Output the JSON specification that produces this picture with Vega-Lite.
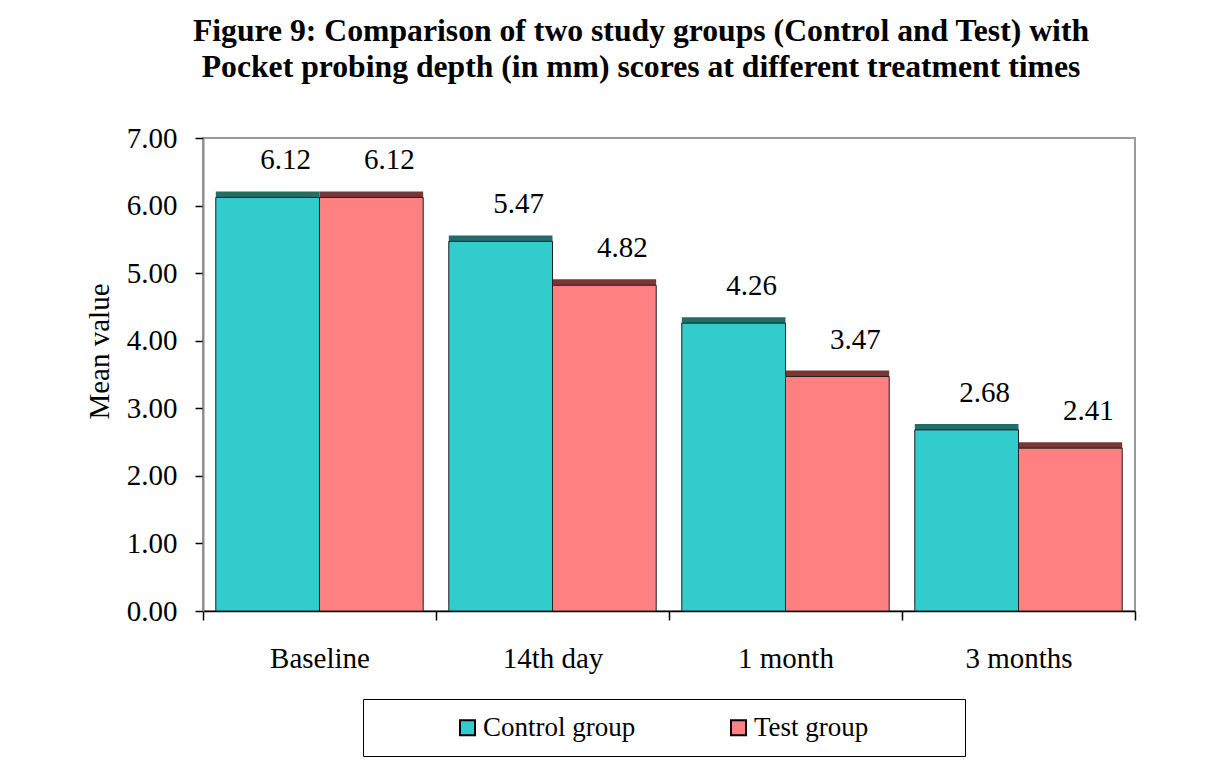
{
  "$schema": "https://vega.github.io/schema/vega-lite/v6.json",
  "width": 932,
  "height": 473,
  "autosize": {"type": "none"},
  "padding": {"left": 203, "top": 138, "right": 73, "bottom": 160},
  "background": "white",
  "config": {
    "font": "Liberation Serif",
    "view": {"stroke": "#9a9a9a", "strokeWidth": 2}
  },
  "title": {
    "text": [
      "Figure 9: Comparison of two study groups (Control and Test) with",
      "Pocket probing depth (in mm) scores at different treatment times"
    ],
    "font": "Liberation Serif",
    "fontSize": 31.7,
    "fontWeight": "bold",
    "color": "black",
    "anchor": "middle",
    "frame": "group",
    "dx": -28,
    "lineHeight": 36,
    "offset": 40
  },
  "data": {
    "values": [
      {"time": "Baseline", "group": "Control group", "value": 6.12},
      {"time": "Baseline", "group": "Test group", "value": 6.12},
      {"time": "14th day", "group": "Control group", "value": 5.47},
      {"time": "14th day", "group": "Test group", "value": 4.82},
      {"time": "1 month", "group": "Control group", "value": 4.26},
      {"time": "1 month", "group": "Test group", "value": 3.47},
      {"time": "3 months", "group": "Control group", "value": 2.68},
      {"time": "3 months", "group": "Test group", "value": 2.41}
    ]
  },
  "encoding": {
    "x": {
      "field": "time",
      "type": "nominal",
      "sort": ["Baseline", "14th day", "1 month", "3 months"],
      "scale": {"paddingInner": 0, "paddingOuter": 0},
      "axis": {
        "title": null,
        "labelAngle": 0,
        "labelFont": "Liberation Serif",
        "labelFontSize": 29,
        "labelColor": "black",
        "labelPadding": 24,
        "tickBand": "extent",
        "tickColor": "black",
        "tickSize": 9,
        "tickWidth": 1.5,
        "domainColor": "black",
        "domainWidth": 1.5
      }
    },
    "xOffset": {
      "field": "group",
      "type": "nominal",
      "sort": ["Control group", "Test group"],
      "scale": {"paddingInner": 0, "paddingOuter": 0.1235}
    },
    "y": {
      "field": "value",
      "type": "quantitative",
      "scale": {"domain": [0, 7], "nice": false},
      "axis": {
        "title": "Mean value",
        "titleFont": "Liberation Serif",
        "titleFontSize": 29,
        "titleFontWeight": "normal",
        "titleColor": "black",
        "titlePadding": 12,
        "titleY": 213,
        "values": [0, 1, 2, 3, 4, 5, 6, 7],
        "format": ".2f",
        "grid": false,
        "labelFont": "Liberation Serif",
        "labelFontSize": 29,
        "labelColor": "black",
        "labelPadding": 18,
        "tickColor": "black",
        "tickSize": 8,
        "tickWidth": 1.5,
        "domainColor": "#8c8c8c",
        "domainWidth": 2
      }
    }
  },
  "layer": [
    {
      "mark": {"type": "bar", "xOffset": 5, "yOffset": -6},
      "encoding": {
        "color": {
          "field": "group",
          "type": "nominal",
          "sort": ["Control group", "Test group"],
          "scale": {"range": ["#246b6b", "#7a3535"]},
          "legend": null
        }
      }
    },
    {
      "mark": {"type": "bar", "stroke": "#222222", "strokeWidth": 1},
      "encoding": {
        "color": {
          "field": "group",
          "type": "nominal",
          "sort": ["Control group", "Test group"],
          "scale": {"range": ["#33cccc", "#ff8080"]},
          "legend": {
            "title": null,
            "orient": "none",
            "legendX": 160,
            "legendY": 561,
            "direction": "horizontal",
            "strokeColor": "black",
            "padding": 15,
            "labelFont": "Liberation Serif",
            "labelFontSize": 27,
            "labelColor": "black",
            "labelLimit": 400,
            "labelExpr": "datum.label == 'Test group' ? datum.label + '\u00a0\u00a0\u00a0\u00a0\u00a0\u00a0\u00a0\u00a0\u00a0\u00a0\u00a0\u00a0\u200b' : datum.label",
            "symbolType": "square",
            "symbolSize": 225,
            "symbolStrokeColor": "black",
            "symbolStrokeWidth": 2,
            "symbolOffset": 76,
            "labelOffset": 2,
            "columnPadding": 13,
            "encoding": {
              "legend": {"update": {"strokeWidth": {"value": 2}}}
            }
          }
        }
      }
    },
    {
      "mark": {
        "type": "text",
        "font": "Liberation Serif",
        "fontSize": 29,
        "color": "black",
        "baseline": "alphabetic",
        "dy": -28,
        "dx": 18
      },
      "encoding": {
        "text": {"field": "value", "type": "quantitative", "format": ".2f"}
      }
    }
  ],
  "resolve": {"scale": {"color": "independent"}}
}
